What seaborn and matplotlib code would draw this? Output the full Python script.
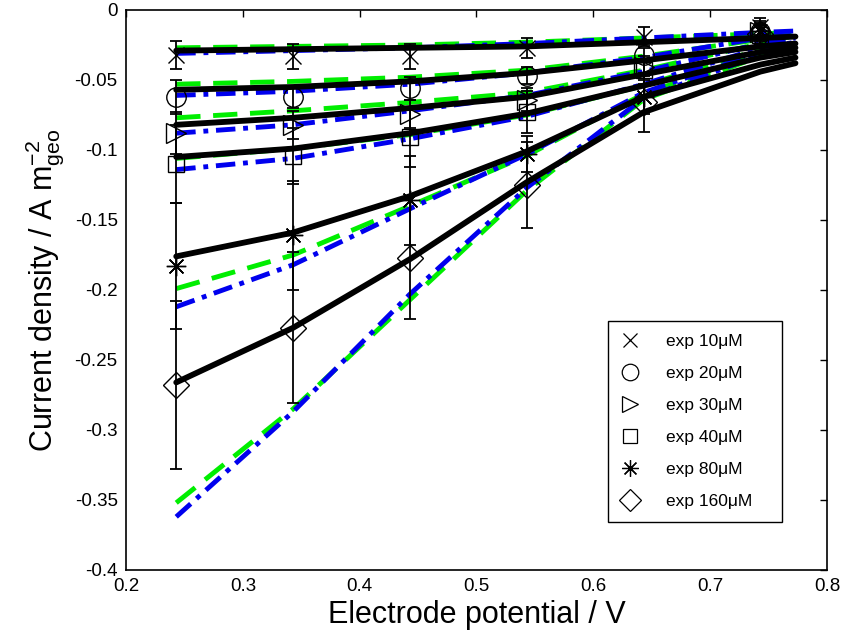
import numpy as np
import pandas as pd
import matplotlib
matplotlib.use("Agg")
import matplotlib.pyplot as plt
from matplotlib.lines import Line2D
import seaborn as sns

# ---------------- data ----------------
concs = ["10", "20", "30", "40", "80", "160"]
exp_x = [0.243, 0.343, 0.443, 0.543, 0.643, 0.743]
model_x = [0.243, 0.343, 0.443, 0.543, 0.643, 0.743, 0.773]

exp10 = [-0.032, -0.033, -0.033, -0.027, -0.019, -0.012]
exp20 = [-0.062, -0.062, -0.056, -0.047, -0.032, -0.016]
exp30 = [-0.088, -0.082, -0.074, -0.064, -0.041, -0.016]
exp40 = [-0.110, -0.104, -0.091, -0.073, -0.043, -0.018]
exp80 = [-0.183, -0.161, -0.136, -0.103, -0.062, -0.015]
exp160 = [-0.268, -0.227, -0.177, -0.125, -0.066, -0.017]

err10 = [0.010, 0.009, 0.009, 0.007, 0.007, 0.006]
err20 = [0.012, 0.008, 0.008, 0.006, 0.005, 0.005]
err30 = [0.015, 0.010, 0.010, 0.008, 0.006, 0.005]
err40 = [0.028, 0.020, 0.021, 0.015, 0.010, 0.006]
err80 = [0.045, 0.039, 0.032, 0.013, 0.012, 0.007]
err160 = [0.060, 0.054, 0.044, 0.031, 0.021, 0.008]

black10 = [-0.029, -0.028, -0.027, -0.026, -0.023, -0.020, -0.019]
black20 = [-0.057, -0.055, -0.051, -0.045, -0.036, -0.026, -0.024]
black30 = [-0.082, -0.077, -0.070, -0.062, -0.046, -0.030, -0.027]
black40 = [-0.105, -0.099, -0.088, -0.074, -0.054, -0.034, -0.030]
black80 = [-0.176, -0.159, -0.133, -0.101, -0.062, -0.039, -0.034]
black160 = [-0.266, -0.227, -0.178, -0.123, -0.073, -0.044, -0.038]

green10 = [-0.027, -0.026, -0.025, -0.023, -0.020, -0.017, -0.016]
green20 = [-0.053, -0.051, -0.048, -0.043, -0.033, -0.021, -0.019]
green30 = [-0.077, -0.072, -0.066, -0.059, -0.043, -0.024, -0.021]
green40 = [-0.106, -0.099, -0.089, -0.075, -0.054, -0.028, -0.024]
green80 = [-0.199, -0.175, -0.140, -0.104, -0.060, -0.031, -0.027]
green160 = [-0.352, -0.285, -0.207, -0.129, -0.064, -0.033, -0.029]

blue10 = [-0.031, -0.029, -0.027, -0.024, -0.020, -0.016, -0.015]
blue20 = [-0.061, -0.058, -0.053, -0.045, -0.034, -0.020, -0.018]
blue30 = [-0.088, -0.082, -0.072, -0.061, -0.044, -0.024, -0.020]
blue40 = [-0.114, -0.106, -0.092, -0.076, -0.053, -0.027, -0.023]
blue80 = [-0.212, -0.182, -0.142, -0.103, -0.059, -0.030, -0.026]
blue160 = [-0.362, -0.287, -0.203, -0.127, -0.063, -0.032, -0.028]

xticks = [0.2, 0.3, 0.4, 0.5, 0.6, 0.7, 0.8]
xticklabels = ["0.2", "0.3", "0.4", "0.5", "0.6", "0.7", "0.8"]
yticks = [0, -0.05, -0.1, -0.15, -0.2, -0.25, -0.3, -0.35, -0.4]
yticklabels = ["0", "-0.05", "-0.1", "-0.15", "-0.2", "-0.25", "-0.3", "-0.35", "-0.4"]

exp_y = [exp10, exp20, exp30, exp40, exp80, exp160]
exp_err = [err10, err20, err30, err40, err80, err160]
black_y = [black10, black20, black30, black40, black80, black160]
green_y = [green10, green20, green30, green40, green80, green160]
blue_y = [blue10, blue20, blue30, blue40, blue80, blue160]

# ---------------- style ----------------
sns.set_theme(style="white")
plt.rcParams["font.family"] = ["Liberation Sans", "DejaVu Sans"]
plt.rcParams["axes.unicode_minus"] = False
plt.rcParams["mathtext.fontset"] = "custom"
plt.rcParams["mathtext.rm"] = "Liberation Sans"
plt.rcParams["mathtext.it"] = "Liberation Sans"
plt.rcParams["text.color"] = "black"
plt.rcParams["axes.labelcolor"] = "black"

fig = plt.figure(figsize=(8.44, 6.41), dpi=100)
ax = fig.add_axes([126 / 844, 1 - 570 / 641, (827 - 126) / 844, (570 - 10) / 641])

# model lines
rows = []
for c, g, b, k in zip(concs, green_y, blue_y, black_y):
    for xv, gv, bv, kv in zip(model_x, g, b, k):
        rows.append({"x": xv, "y": gv, "model": "green", "conc": c})
        rows.append({"x": xv, "y": bv, "model": "blue", "conc": c})
        rows.append({"x": xv, "y": kv, "model": "black", "conc": c})
df = pd.DataFrame(rows)

styles = {
    "green": dict(color="#00ee00", lw=3.5, ls=(0, (5, 2.6)), z=2),
    "blue": dict(color="#0000ee", lw=3.5, ls=(0, (4, 1.6, 1, 1.6)), z=3),
    "black": dict(color="black", lw=4.2, ls="-", z=4),
}
for model in ["green", "blue", "black"]:
    st = styles[model]
    for c in concs:
        sub = df[(df.model == model) & (df.conc == c)]
        sns.lineplot(data=sub, x="x", y="y", ax=ax, color=st["color"],
                     linewidth=st["lw"], linestyle=st["ls"], zorder=st["z"],
                     estimator=None, sort=False, legend=False)

# experimental points
markers = ["x", "o", ">", "s", (8, 2, 0), "D"]
msizes = [12, 14, 14, 12, 14, 13]
handles = []
for c, ys, es, m, ms in zip(concs, exp_y, exp_err, markers, msizes):
    ax.errorbar(exp_x, ys, yerr=es, fmt="none", ecolor="black", elinewidth=1.3,
                capsize=4.5, capthick=1.3, zorder=5)
    ax.plot(exp_x, ys, linestyle="none", marker=m, markersize=ms,
            markerfacecolor="none", markeredgecolor="black", markeredgewidth=1.0,
            zorder=6)
    handles.append(Line2D([], [], linestyle="none", marker=m, markersize=ms * 0.85,
                          markerfacecolor="none", markeredgecolor="black",
                          markeredgewidth=0.9, label=f"exp {c}μM"))

ax.set_xlim(0.2, 0.8)
ax.set_ylim(-0.4, 0)
ax.set_xticks(xticks)
ax.set_xticklabels(xticklabels)
ax.set_yticks(yticks)
ax.set_yticklabels(yticklabels)
ax.tick_params(direction="in", length=5, width=1, top=True, right=True,
               labelsize=13.5, colors="black", pad=6)
for s in ax.spines.values():
    s.set_color("black")
    s.set_linewidth(1.2)
ax.set_xlabel("Electrode potential / V", fontsize=22, labelpad=3)
ax.set_ylabel(r"Current density / A m$^{\mathregular{-2}}_{\mathregular{geo}}$",
              fontsize=22, labelpad=6)

leg = ax.legend(handles=handles, loc="lower left",
                bbox_to_anchor=(0.688, 0.086, 0.248, 0.353), mode="expand",
                borderaxespad=0, fontsize=12.5, frameon=True, fancybox=False,
                framealpha=1, edgecolor="black", labelspacing=0.97,
                handletextpad=1.6, borderpad=0.75, handlelength=1.0)
leg.get_frame().set_linewidth(1.0)
leg.set_zorder(10)

fig.savefig("out.png", dpi=100)
